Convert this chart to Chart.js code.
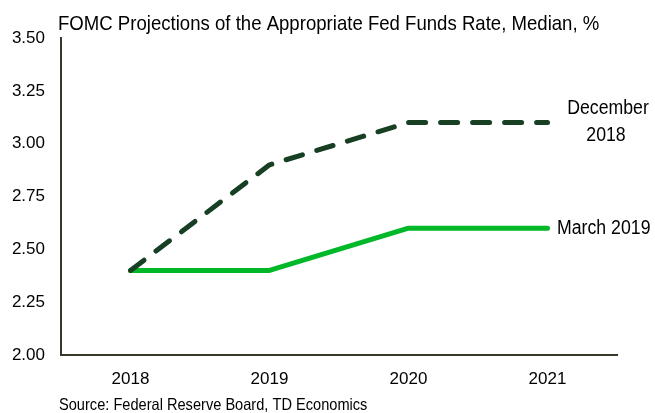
<!DOCTYPE html>
<html>
<head>
<meta charset="utf-8">
<script src="https://cdn.jsdelivr.net/npm/chart.js@4.4.0/dist/chart.umd.min.js"></script>
<style>
html,body{margin:0;padding:0;background:#fff;}
#wrap{position:relative;width:655px;height:413px;}
</style>
</head>
<body>
<div id="wrap"><canvas id="c" width="655" height="413"></canvas></div>
<script>
const categories = ["2018", "2019", "2020", "2021"];
const december2018 = [2.4, 2.9, 3.1, 3.1];
const march2019 = [2.4, 2.4, 2.6, 2.6];
const yTicks = [2.00, 2.25, 2.50, 2.75, 3.00, 3.25, 3.50];
const seriesNames = [["December", "2018"], ["March 2019"]];
const titleText = "FOMC Projections of the Appropriate Fed Funds Rate, Median, %";
const sourceText = "Source: Federal Reserve Board, TD Economics";

const FONT = "'Liberation Sans', Arial, sans-serif";
const SX = 0.885; // horizontal squeeze of the reference's text

function squeezedText(ctx, text, x, y, size, align) {
  ctx.save();
  ctx.font = size + "px " + FONT;
  ctx.textAlign = align;
  ctx.translate(x, y);
  ctx.scale(SX, 1);
  ctx.fillText(text, 0, 0);
  ctx.restore();
}

const textPlugin = {
  id: 'texts',
  afterDraw(chart) {
    const ctx = chart.ctx;
    const y = chart.scales.y;
    ctx.save();
    ctx.fillStyle = '#000';
    ctx.textBaseline = 'alphabetic';
    squeezedText(ctx, titleText, 58, 30, 21, 'left');
    squeezedText(ctx, sourceText, 59, 410, 16.5, 'left');
    ctx.textBaseline = 'middle';
    const dy = y.getPixelForValue(december2018[december2018.length - 1]);
    squeezedText(ctx, seriesNames[0][0], 608, dy - 14, 20, 'center');
    squeezedText(ctx, seriesNames[0][1], 606, dy + 13, 20, 'center');
    const my = y.getPixelForValue(march2019[march2019.length - 1]);
    squeezedText(ctx, seriesNames[1][0], 557, my, 20, 'left');
    ctx.restore();
  }
};

new Chart(document.getElementById('c'), {
  type: 'line',
  data: {
    labels: categories,
    datasets: [
      {
        label: seriesNames[0].join(' '),
        data: december2018,
        borderColor: '#173f23',
        borderWidth: 5,
        borderDash: [17, 15],
        borderCapStyle: 'round',
        borderJoinStyle: 'round',
        pointRadius: 0,
        tension: 0,
        fill: false
      },
      {
        label: seriesNames[1][0],
        data: march2019,
        borderColor: '#00b828',
        borderWidth: 5,
        borderCapStyle: 'round',
        borderJoinStyle: 'round',
        pointRadius: 0,
        tension: 0,
        fill: false
      }
    ]
  },
  options: {
    responsive: false,
    animation: false,
    devicePixelRatio: 1,
    layout: { padding: { left: 0, right: 38, top: 38, bottom: 0 } },
    plugins: {
      legend: { display: false },
      title: { display: false },
      tooltip: { enabled: false }
    },
    scales: {
      x: {
        offset: true,
        grid: { display: false, drawTicks: false },
        border: { display: true, color: '#333a2a', width: 2 },
        ticks: { color: '#000', font: { size: 17, family: FONT }, padding: 14, maxRotation: 0 },
        afterFit(scale) { scale.height = 58; }
      },
      y: {
        min: 2, max: 3.5,
        afterBuildTicks(scale) { scale.ticks = yTicks.map(v => ({ value: v })); },
        grid: { display: false, drawTicks: false },
        border: { display: true, color: '#333a2a', width: 2 },
        ticks: {
          color: '#000', font: { size: 17, family: FONT }, padding: 16,
          callback: v => Number(v).toFixed(2)
        },
        afterFit(scale) { scale.width = 61; }
      }
    }
  },
  plugins: [textPlugin]
});
</script>
</body>
</html>
